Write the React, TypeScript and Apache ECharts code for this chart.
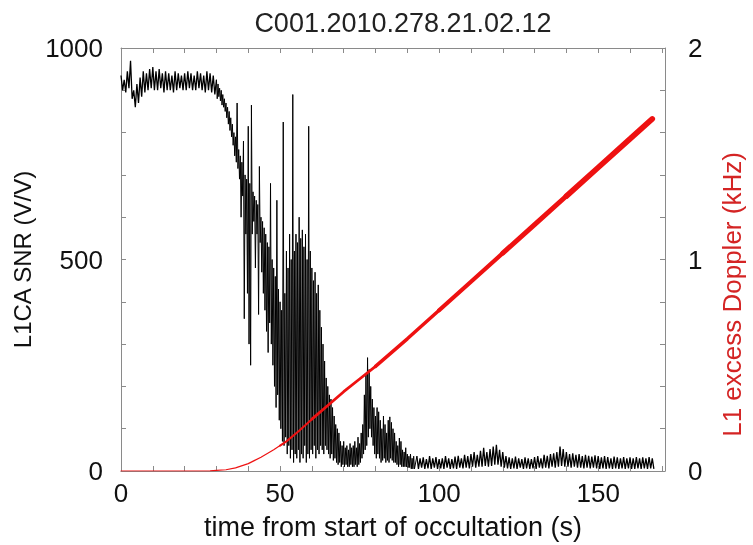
import { useEffect, useRef } from "react";
import * as echarts from "echarts";

// SNR envelope, block A: t = 0..29 s, one sample per second (high / low of the noise band)
const snrHighA = [
  935, 925, 945, 970, 900, 915, 930, 945, 940, 950,
  955, 945, 950, 940, 945, 940, 935, 945, 940, 935,
  940, 945, 940, 935, 945, 940, 935, 945, 940, 935,
];
const snrLowA = [
  900, 895, 905, 880, 860, 870, 885, 895, 900, 905,
  900, 900, 905, 895, 900, 900, 895, 900, 905, 900,
  900, 905, 900, 900, 905, 900, 895, 900, 895, 890,
];

// block B: t = 30..92 s, every 0.5 s (the fade-out)
const snrHighB = [
  925,
  915, 905, 900, 890, 880, 870, 860, 850, 835, 820,
  800, 790, 870, 760, 745, 730, 780, 700, 690, 815,
  680, 865, 660, 650, 640, 630, 720, 600, 590, 575,
  560, 540, 530, 680, 500, 480, 460, 640, 430, 400,
  380, 825, 420, 520, 480, 560, 500, 890, 520, 560,
  540, 600, 550, 570, 530, 560, 500, 815, 520, 480,
  450, 470, 420, 440, 380, 340, 300, 260, 220, 200,
  180, 170, 150, 130, 110, 100, 90, 70, 60, 70,
  55, 60, 50, 65, 55, 60, 70, 55, 80, 65,
  90, 110, 180, 230, 268, 240, 200, 170, 150, 130,
  150, 140, 120, 100, 130, 110, 90, 120, 128, 115,
  100, 90, 70, 60, 78, 70, 50, 45, 55, 40,
  35, 40, 30, 35,
];
const snrLowB = [
  880,
  885, 875, 865, 860, 850, 835, 820, 805, 790, 770,
  745, 730, 715, 690, 600, 650, 360, 560, 420, 300,
  250, 560, 590, 480, 560, 370, 540, 470, 420, 380,
  330, 280, 350, 300, 250, 200, 150, 180, 120, 100,
  70, 60, 80, 40, 60, 30, 50, 20, 40, 30,
  50, 20, 40, 30, 60, 20, 40, 30, 50, 40,
  60, 30, 50, 40, 60, 50, 40, 60, 50, 40,
  30, 40, 25, 30, 20, 15, 20, 10, 15, 10,
  15, 10, 10, 15, 10, 10, 15, 10, 15, 20,
  30, 40, 50, 60, 80, 100, 80, 60, 40, 30,
  40, 30, 20, 25, 30, 20, 25, 20, 30, 25,
  20, 20, 15, 10, 15, 10, 10, 10, 10, 8,
  8, 5, 5, 5,
];

// block C: t = 93..167 s, one sample per second (noise floor)
const snrHighC = [
  35, 30, 32, 28, 35, 30, 33, 28, 30, 35,
  30, 28, 34, 36, 30, 38, 35, 40, 45, 38,
  48, 55, 45, 52, 58, 62, 50, 45, 35, 32,
  30, 34, 30, 28, 32, 30, 28, 33, 35, 30,
  38, 36, 40, 42, 45, 58, 52, 45, 40, 42,
  38, 40, 35, 38, 36, 34, 37, 35, 32, 35,
  33, 30, 34, 32, 30, 33, 30, 32, 30, 33,
  30, 32, 30, 33, 30,
];
const snrLowC = [
  5, 8, 5, 6, 5, 8, 5, 6, 5, 8,
  5, 6, 5, 8, 6, 8, 6, 10, 8, 10,
  10, 12, 10, 12, 15, 15, 10, 8, 6, 5,
  6, 5, 8, 5, 6, 5, 6, 5, 8, 6,
  8, 6, 10, 8, 10, 12, 10, 10, 8, 10,
  8, 8, 6, 8, 6, 8, 6, 5, 6, 5,
  6, 5, 6, 5, 6, 5, 6, 5, 5, 6,
  5, 6, 5, 6, 5,
];

// excess Doppler (kHz)
const dopplerTime = [0, 10, 20, 28, 30, 33, 36, 40, 44, 48, 50, 52, 56, 60, 65, 70, 75, 80, 90, 100, 110, 120, 130, 140, 150, 160, 167];
const dopplerKHz = [0, 0, 0, 0.001, 0.003, 0.006, 0.015, 0.035, 0.065, 0.1, 0.12, 0.14, 0.19, 0.245, 0.31, 0.375, 0.435, 0.495, 0.625, 0.76, 0.895, 1.03, 1.165, 1.3, 1.435, 1.57, 1.665];

// the red trace gets noisier (thicker) with time: [from, to, line width]
const dopplerBands = [
  [0, 50, 1.2],
  [50, 60, 2],
  [60, 80, 2.8],
  [80, 100, 3.5],
  [100, 120, 4.2],
  [120, 140, 4.9],
  [140, 167, 5.6],
];

const FONT = "Liberation Sans";
const RED = "#ee1111";

// high/low pairs -> zigzag line
const zigzag = (start: number, step: number, hi: number[], lo: number[]) => {
  const pts: number[][] = [];
  hi.forEach((h, i) => {
    const t = start + i * step;
    pts.push([t, h]);
    pts.push([t + step / 2, lo[i]]);
  });
  return pts;
};

const dopplerPart = (t0: number, t1: number) =>
  dopplerTime
    .map((t, i) => [t, dopplerKHz[i]])
    .filter((p) => p[0] >= t0 && p[0] <= t1);

const App = () => {
  const chartRef = useRef(null);

  useEffect(() => {
    const chart = echarts.init(chartRef.current, null, { renderer: "svg" });

    const partA = zigzag(0, 1, snrHighA, snrLowA);
    const partB = zigzag(30, 0.5, snrHighB, snrLowB);
    const partC = zigzag(93, 1, snrHighC, snrLowC);

    const grey = "#8a8a8a";
    const axisLine = { show: true, onZero: false, lineStyle: { color: grey, width: 1 } };
    const label = { fontFamily: FONT, fontSize: 26, color: "#111" };

    const snrLine = (data: number[][], w: number) => ({
      type: "line",
      xAxisIndex: 0,
      yAxisIndex: 0,
      showSymbol: false,
      data,
      lineStyle: { color: "#000", width: w },
    });

    const dopplerLine = (t0: number, t1: number, w: number) => ({
      type: "line",
      xAxisIndex: 0,
      yAxisIndex: 1,
      showSymbol: false,
      data: dopplerPart(t0, t1),
      lineStyle: { color: RED, width: w, cap: "round" },
    });

    const option = {
      animation: false,
      title: {
        text: "C001.2010.278.21.02.12",
        left: 398,
        textAlign: "center",
        top: 4,
        textStyle: { fontFamily: FONT, fontSize: 27, fontWeight: "normal", color: "#222" },
      },
      grid: { left: 121, right: 78, top: 48, bottom: 68 },
      xAxis: [
        {
          type: "value",
          min: 0,
          max: 171,
          interval: 10,
          name: "time from start of occultation (s)",
          nameLocation: "middle",
          nameGap: 42,
          nameTextStyle: { ...label, fontSize: 27 },
          axisLine,
          axisTick: { show: true, inside: true, length: 5, lineStyle: { color: grey } },
          splitLine: { show: false },
          axisLabel: {
            ...label,
            margin: 9,
            showMaxLabel: false,
            formatter: (v: number) => (v % 50 === 0 ? String(v) : ""),
          },
        },
        {
          type: "value",
          position: "top",
          min: 0,
          max: 171,
          interval: 10,
          axisLine,
          axisTick: { show: true, inside: true, length: 5, lineStyle: { color: grey } },
          splitLine: { show: false },
          axisLabel: { show: false },
        },
      ],
      yAxis: [
        {
          type: "value",
          min: 0,
          max: 1000,
          interval: 100,
          name: "L1CA SNR (V/V)",
          nameLocation: "middle",
          nameRotate: 90,
          nameGap: 84,
          nameTextStyle: { ...label, fontSize: 24 },
          axisLine,
          axisTick: { show: true, inside: true, length: 5, lineStyle: { color: grey } },
          splitLine: { show: false },
          axisLabel: {
            ...label,
            margin: 18,
            formatter: (v: number) => (v % 500 === 0 ? String(v) : ""),
          },
        },
        {
          type: "value",
          position: "right",
          min: 0,
          max: 2,
          interval: 0.2,
          name: "L1 excess Doppler (kHz)",
          nameLocation: "middle",
          nameRotate: 90,
          nameGap: 54,
          nameTextStyle: { ...label, fontSize: 26, color: "#d42424", padding: [0, 70, 0, 0] },
          axisLine,
          axisTick: { show: true, inside: true, length: 5, lineStyle: { color: grey } },
          splitLine: { show: false },
          axisLabel: {
            ...label,
            margin: 23,
            formatter: (v: number) => (Math.abs(v - Math.round(v)) < 1e-6 ? String(Math.round(v)) : ""),
          },
        },
      ],
      series: [
        snrLine([...partA, partB[0]], 1.3),
        snrLine([...partB, partC[0]], 1),
        snrLine(partC, 1.3),
        ...dopplerBands.map((b) => dopplerLine(b[0], b[1], b[2])),
      ],
    };
    chart.setOption(option);

    return () => {
      chart.dispose();
    };
  }, []);

  return <div ref={chartRef} style={{ position: "fixed", left: 0, top: 0, width: 753, height: 545 }} />;
};

export default App;
